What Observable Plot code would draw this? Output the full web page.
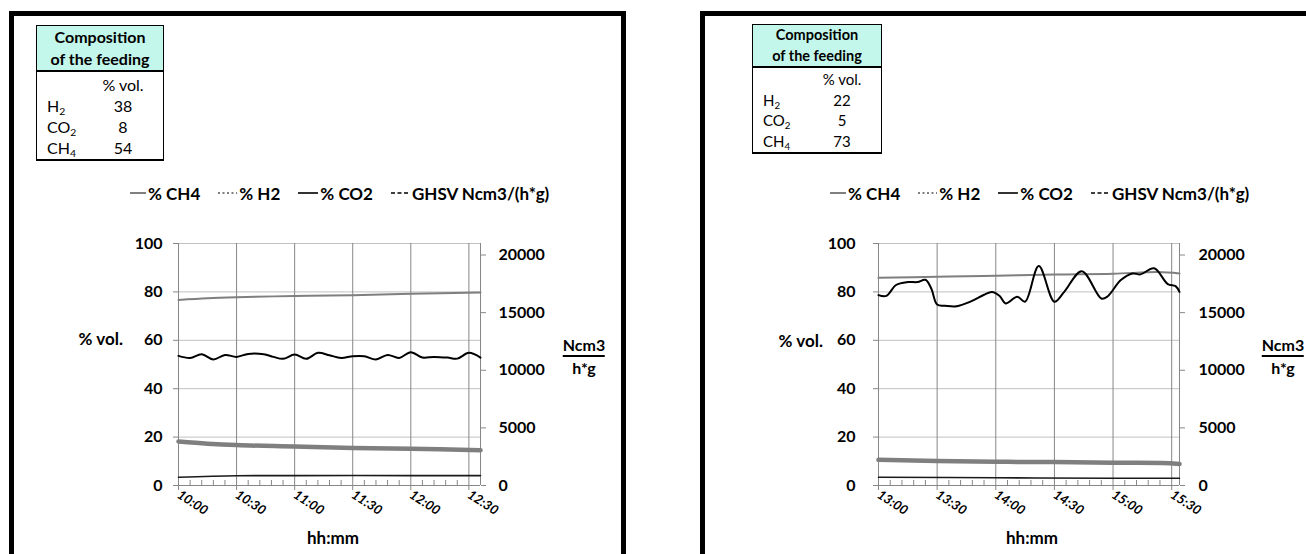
<!DOCTYPE html>
<html><head><meta charset="utf-8">
<script src="https://cdn.jsdelivr.net/npm/d3@7"></script>
<script src="https://cdn.jsdelivr.net/npm/@observablehq/plot@0.6"></script>
<style>
body{margin:0;width:1306px;height:554px;overflow:hidden;background:#fff;font-family:Lato,sans-serif;position:relative;color:#000}
.panel{position:absolute;top:11px;width:617px;height:600px;border:5px solid #000;border-bottom:none;box-sizing:border-box}
.feed{position:absolute;border:1px solid #000;border-bottom:2px solid #000;background:#fff;box-sizing:border-box}
.fh{background:#c4f7eb;text-align:center;font-weight:bold;border-bottom:2px solid #000}
.row{display:flex;align-items:center}
.lab{box-sizing:border-box;padding-left:10px;white-space:nowrap}
.val{flex:1;text-align:center;white-space:nowrap}
sub{font-size:65%;vertical-align:-0.3em;line-height:0}
.legend{position:absolute;display:flex;align-items:center;font-weight:bold;font-size:17px;white-space:nowrap;height:20px}
.legend .it{display:flex;align-items:center;margin-right:18px}
.legend svg{margin-right:2px}
.lbl{position:absolute;font-weight:bold;font-size:16px;white-space:nowrap}
.frac{position:absolute;font-weight:bold;font-size:16px;text-align:center;transform:translate(-50%,-50%);line-height:21px}
.frac .num{border-bottom:2px solid #000}
.plotbox{position:absolute}
.plotbox svg{position:absolute;left:0;top:0}
</style></head><body>
<script>
// ---------- data ----------
const seriesNames = ["% CH4", "% H2", "% CO2", "GHSV Ncm3/(h*g)"];
const feedComponents = ["H2", "CO2", "CH4"];
const leftFeed = [38, 8, 54];
const rightFeed = [22, 5, 73];
const volTicks = [0, 20, 40, 60, 80, 100];
const ghsvTicks = [0, 5000, 10000, 15000, 20000];
const leftTimeTicks = ["10:00", "10:30", "11:00", "11:30", "12:00", "12:30"];
const rightTimeTicks = ["13:00", "13:30", "14:00", "14:30", "15:00", "15:30"];

// left chart (10:00 - 12:36)
const leftCH4Times = ["10:00", "10:15", "10:30", "11:00", "11:30", "12:00", "12:36"];
const leftCH4 = [76.7, 77.4, 77.8, 78.3, 78.6, 79.2, 79.8];
const leftH2Times = ["10:00", "10:15", "10:30", "11:00", "11:30", "12:00", "12:36"];
const leftH2 = [18.2, 17.3, 16.7, 16.1, 15.5, 15.2, 14.6];
const leftCO2Times = ["10:00", "10:30", "11:00", "12:00", "12:36"];
const leftCO2 = [3.4, 4.0, 4.1, 4.1, 4.1];
const leftGHSVTimes = ["10:00", "10:06", "10:12", "10:18", "10:24", "10:30", "10:36", "10:44", "10:49", "10:54", "11:00", "11:06", "11:12", "11:18", "11:24", "11:30", "11:36", "11:42", "11:48", "11:54", "12:00", "12:06", "12:12", "12:19", "12:24", "12:30", "12:36"];
const leftGHSV = [11250, 11070, 11390, 10930, 11330, 11160, 11420, 11390, 11160, 10990, 11360, 10990, 11510, 11300, 11070, 11220, 11220, 10930, 11330, 11070, 11570, 11100, 11160, 11100, 11010, 11510, 11100];

// right chart (13:00 - 15:34)
const rightCH4Times = ["13:00", "13:30", "14:00", "14:30", "15:00", "15:23", "15:34"];
const rightCH4 = [85.8, 86.3, 86.7, 87.2, 87.5, 88.2, 87.6];
const rightH2Times = ["13:00", "13:30", "14:00", "14:30", "15:00", "15:25", "15:34"];
const rightH2 = [10.6, 10.1, 9.8, 9.7, 9.4, 9.3, 8.9];
const rightCO2Times = ["13:00", "14:00", "15:00", "15:34"];
const rightCO2 = [3.4, 3.2, 3.0, 3.0];
const rightGHSVTimes = ["13:00", "13:04", "13:09", "13:15", "13:20", "13:24", "13:27", "13:30", "13:34", "13:40", "13:47", "13:54", "13:58", "14:02", "14:05", "14:11", "14:15", "14:22", "14:30", "14:35", "14:44", "14:54", "14:57", "15:04", "15:10", "15:14", "15:21", "15:28", "15:32", "15:34"];
const rightGHSV = [16520, 16450, 17400, 17650, 17650, 17850, 17100, 15700, 15600, 15550, 15950, 16550, 16800, 16450, 15800, 16380, 15950, 19050, 15950, 16800, 18600, 16230, 16380, 17830, 18400, 18320, 18850, 17480, 17300, 16800];

// ---------- helpers ----------
const T = s => { const [h, m] = s.split(":").map(Number); return new Date(Date.UTC(2020, 0, 1, h, m)); };
const rows = (times, vals) => times.map((s, i) => ({time: T(s), value: vals[i]}));

function el(tag, cls, parent) { const e = document.createElement(tag); if (cls) e.className = cls; (parent || document.body).appendChild(e); return e; }

function panelBox(left) { const p = el("div", "panel"); p.style.left = left + "px"; }

function feedTable(left, top, width, labelW, hfs, bfs, headLH, rowH, padTop, vals) {
  const d = el("div", "feed");
  Object.assign(d.style, {left: left + "px", top: top + "px", width: width + "px"});
  let html = `<div class="fh" style="font-size:${hfs}px;line-height:${headLH}px">Composition<br>of the feeding</div>`;
  html += `<div style="font-size:${bfs}px;padding-top:${padTop}px;padding-bottom:1px">`;
  html += `<div class="row" style="height:${rowH}px"><span class="lab" style="width:${labelW}px"></span><span class="val">% vol.</span></div>`;
  feedComponents.forEach((c, i) => {
    html += `<div class="row" style="height:${rowH}px"><span class="lab" style="width:${labelW}px">${c.replace(/(\d)/, "<sub>$1</sub>")}</span><span class="val">${vals[i]}</span></div>`;
  });
  html += `</div>`;
  d.innerHTML = html;
}

function legend(left, top) {
  const d = el("div", "legend");
  Object.assign(d.style, {left: left + "px", top: top + "px"});
  const sym = [
    {c: "#7f7f7f", w: 2, dash: null, len: 16},
    {c: "#7f7f7f", w: 2, dash: "2,2.5", len: 19},
    {c: "#000", w: 1.6, dash: null, len: 20},
    {c: "#000", w: 1.6, dash: "4,2.5", len: 19}
  ];
  seriesNames.forEach((n, i) => {
    const it = el("span", "it", d);
    const s = sym[i];
    it.innerHTML = `<svg width="${s.len}" height="10"><line x1="0" x2="${s.len}" y1="5" y2="5" stroke="${s.c}" stroke-width="${s.w}" ${s.dash ? `stroke-dasharray="${s.dash}"` : ""}/></svg><span>${n}</span>`;
  });
}

function label(text, x, y, anchor, size) {
  const d = el("div", "lbl");
  d.textContent = text;
  d.style.left = x + "px"; d.style.top = y + "px";
  if (size) d.style.fontSize = size + "px";
  d.style.transform = anchor === "end" ? "translate(-100%,-50%)" : "translate(-50%,-50%)";
}

function frac(x, y) {
  const d = el("div", "frac");
  d.style.left = x + "px"; d.style.top = y + "px";
  d.innerHTML = `<div class="num">Ncm3</div><div>h*g</div>`;
}

function drawPanel(cfg) {
  const x0 = T(cfg.start), x1 = T(cfg.end);
  const major = cfg.ticks.map(T);
  const minor = d3.utcMinute.every(6).range(x0, x1).filter(d => d.getUTCMinutes() % 30 !== 0);
  const fh = cfg.h - cfg.mT - cfg.mB;
  const base = {
    width: cfg.w, height: cfg.h,
    marginLeft: cfg.mL, marginRight: cfg.mR, marginTop: cfg.mT, marginBottom: cfg.mB,
    style: {background: "transparent", fontFamily: "Lato, sans-serif", fontWeight: "bold", fontSize: "16px", overflow: "visible"}
  };
  const grey = "#878787";
  const A = Plot.plot({
    ...base,
    x: {type: "utc", domain: [x0, x1]},
    y: {domain: [0, 100]},
    marks: [
      Plot.gridY(volTicks.slice(1), {stroke: "#c0c0c0", strokeOpacity: 1}),
      Plot.gridX(major.slice(1), {stroke: grey, strokeOpacity: 1}),
      Plot.ruleX([x0, x1], {stroke: grey}),
      Plot.ruleY([0], {stroke: grey}),
      Plot.ruleX(minor, {stroke: grey, insetTop: fh - 5}),
      Plot.axisY(volTicks, {tickSize: 5, tickPadding: cfg.lPad, stroke: grey, fill: "#000", label: null, fontSize: 16, fontWeight: "bold"}),
      Plot.axisX(major, {tickSize: 5, tickPadding: 3, tickRotate: 33, tickFormat: d3.utcFormat("%H:%M"), stroke: grey, fill: "#000", label: null, fontSize: 13, fontStyle: "italic", fontWeight: "bold"}),
      Plot.line(rows(cfg.h2t, cfg.h2), {x: "time", y: "value", stroke: "#7f7f7f", strokeWidth: 4.5, curve: "catmull-rom"}),
      Plot.line(rows(cfg.ch4t, cfg.ch4), {x: "time", y: "value", stroke: "#7f7f7f", strokeWidth: 2, curve: "catmull-rom"}),
      Plot.line(rows(cfg.co2t, cfg.co2), {x: "time", y: "value", stroke: "#1a1a1a", strokeWidth: 1.6, curve: "catmull-rom"})
    ]
  });
  const B = Plot.plot({
    ...base,
    x: {type: "utc", domain: [x0, x1], axis: null},
    y: {domain: [0, 21000]},
    marks: [
      Plot.axisY(ghsvTicks, {anchor: "right", tickSize: 5, tickPadding: cfg.rPad, stroke: grey, fill: "#000", label: null, fontSize: 16, fontWeight: "bold", tickFormat: d => String(d)}),
      Plot.line(rows(cfg.gt, cfg.g), {x: "time", y: "value", stroke: "#000", strokeWidth: 2, curve: "catmull-rom"})
    ]
  });
  const box = el("div", "plotbox");
  Object.assign(box.style, {left: cfg.left + "px", top: cfg.top + "px", width: cfg.w + "px", height: cfg.h + "px"});
  box.appendChild(A); box.appendChild(B);
}

// ---------- layout ----------
panelBox(9);
panelBox(700);
feedTable(36, 25, 128, 46, 16, 16, 22, 21, 2, leftFeed);
feedTable(752, 24, 130, 50, 14.5, 15, 20.5, 20.5, 1, rightFeed);
legend(130, 183);
legend(830, 183);

drawPanel({left: 40, top: 225, w: 580, h: 329, mL: 138, mR: 140, mT: 18, mB: 69, lPad: 11, rPad: 13,
  start: "10:00", end: "12:36", ticks: leftTimeTicks,
  ch4t: leftCH4Times, ch4: leftCH4, h2t: leftH2Times, h2: leftH2, co2t: leftCO2Times, co2: leftCO2, gt: leftGHSVTimes, g: leftGHSV});
drawPanel({left: 740, top: 225, w: 566, h: 329, mL: 138, mR: 127, mT: 18, mB: 69, lPad: 18, rPad: 14,
  start: "13:00", end: "15:34", ticks: rightTimeTicks,
  ch4t: rightCH4Times, ch4: rightCH4, h2t: rightH2Times, h2: rightH2, co2t: rightCO2Times, co2: rightCO2, gt: rightGHSVTimes, g: rightGHSV});

label("% vol.", 123, 338, "end", 17);
label("% vol.", 823, 340, "end", 17);
frac(584, 356);
frac(1283, 356);
label("hh:mm", 333, 537, "middle", 17);
label("hh:mm", 1032, 537, "middle", 17);
</script>
</body></html>
